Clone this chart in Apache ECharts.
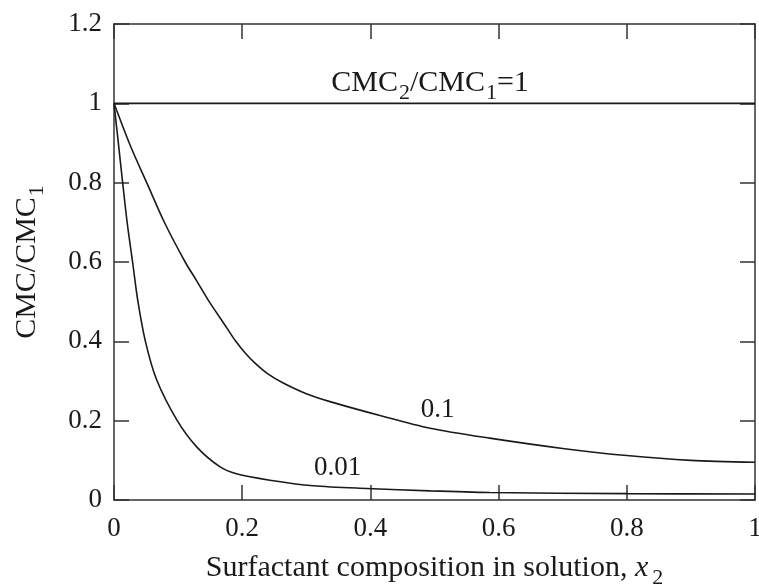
<!DOCTYPE html>
<html>
<head>
<meta charset="utf-8">
<script src="https://cdn.jsdelivr.net/npm/echarts@6/dist/echarts.min.js"></script>
<style>
html,body{margin:0;padding:0;background:#fff;}
#chart{width:759px;height:586px;}
</style>
</head>
<body>
<div id="chart"></div>
<script>
// CMC2/CMC1 = 1 (flat line)
var ratio1 = [[0, 1], [1, 1]];
// CMC2/CMC1 = 0.1
var ratio01 = [
    [0, 1.0], [0.026, 0.891], [0.051, 0.80], [0.0795, 0.697], [0.111, 0.60],
    [0.128, 0.555], [0.147, 0.504], [0.176, 0.434], [0.19, 0.40], [0.205, 0.37],
    [0.22, 0.345], [0.24, 0.318], [0.264, 0.295], [0.30, 0.268], [0.337, 0.248],
    [0.415, 0.213], [0.493, 0.181], [0.586, 0.156], [0.70, 0.130], [0.80, 0.112],
    [0.90, 0.100], [1.0, 0.095]
];
// CMC2/CMC1 = 0.01
var ratio001 = [
    [0, 1.0], [0.0074, 0.891], [0.0135, 0.80], [0.0205, 0.70], [0.029, 0.60],
    [0.037, 0.504], [0.049, 0.40], [0.0665, 0.303], [0.098, 0.202], [0.129, 0.134],
    [0.165, 0.084], [0.191, 0.066], [0.243, 0.050], [0.311, 0.036], [0.394, 0.029],
    [0.493, 0.023], [0.586, 0.019], [0.80, 0.016], [1.0, 0.015]
];
// where the curve labels sit (data coords)
var labelTop = [0.493, 1.05];
var label01 = [0.505, 0.227];
var label001 = [0.349, 0.081];

var font = 'Liberation Serif';
var ink = '#1a1a1a';

var myChart = echarts.init(document.getElementById('chart'));

// subscript style: smaller and dropped below the baseline
var sub = {fontFamily: font, fontSize: 22, color: ink, verticalAlign: 'bottom', padding: [20, 0, 0, 1]};

function textLabel(coord, text, size) {
    return {
        coord: coord,
        symbol: 'circle',
        symbolSize: 1,
        itemStyle: {color: 'rgba(0,0,0,0)'},
        label: {
            show: true,
            position: 'inside',
            formatter: text,
            color: ink,
            fontFamily: font,
            fontSize: size,
            rich: {
                n: {fontFamily: font, fontSize: size, color: ink},
                s: sub
            }
        }
    };
}

var lineStyle = {color: ink, width: 1.6};
var axisLine = {show: true, onZero: false, lineStyle: {color: '#333', width: 1.5}};
var axisTick = {inside: true, length: 15, lineStyle: {color: '#333', width: 1.5}};

var option = {
    animation: false,
    grid: {left: 114, right: 4, top: 24, bottom: 86, outerBoundsMode: 'none'},
    xAxis: [{
        type: 'value',
        min: 0, max: 1, interval: 0.2,
        name: '{n|Surfactant composition in solution, }{i|x}{s|2}',
        nameLocation: 'middle',
        nameGap: 47,
        nameTextStyle: {
            rich: {
                n: {fontFamily: font, fontSize: 30, color: ink},
                i: {fontFamily: font, fontSize: 30, fontStyle: 'italic', color: ink},
                s: {fontFamily: font, fontSize: 22, color: ink, verticalAlign: 'bottom', padding: [20, 0, 0, 4]}
            }
        },
        axisLine: axisLine,
        axisTick: axisTick,
        axisLabel: {fontFamily: font, fontSize: 27, color: ink, margin: 15},
        splitLine: {show: false}
    }, {
        type: 'value',
        position: 'top',
        min: 0, max: 1, interval: 0.2,
        axisLine: axisLine,
        axisTick: axisTick,
        axisLabel: {show: false},
        splitLine: {show: false}
    }],
    yAxis: [{
        type: 'value',
        min: 0, max: 1.2, interval: 0.2,
        name: '{n|CMC/CMC}{s|1}',
        nameLocation: 'middle',
        nameRotate: 90,
        nameGap: 66,
        nameTextStyle: {
            rich: {
                n: {fontFamily: font, fontSize: 30, color: ink},
                s: sub
            }
        },
        axisLine: axisLine,
        axisTick: axisTick,
        axisLabel: {fontFamily: font, fontSize: 27, color: ink, margin: 12},
        splitLine: {show: false}
    }, {
        type: 'value',
        position: 'right',
        min: 0, max: 1.2, interval: 0.2,
        axisLine: axisLine,
        axisTick: axisTick,
        axisLabel: {show: false},
        splitLine: {show: false}
    }],
    series: [{
        type: 'line',
        data: ratio1,
        showSymbol: false,
        lineStyle: lineStyle,
        markPoint: {data: [textLabel(labelTop, '{n|CMC}{s|2}{n|/CMC}{s|1}{n|=1}', 30)]}
    }, {
        type: 'line',
        data: ratio01,
        smooth: 0.3,
        showSymbol: false,
        lineStyle: lineStyle,
        markPoint: {data: [textLabel(label01, '0.1', 27)]}
    }, {
        type: 'line',
        data: ratio001,
        smooth: 0.3,
        showSymbol: false,
        lineStyle: lineStyle,
        markPoint: {data: [textLabel(label001, '0.01', 27)]}
    }]
};

myChart.setOption(option, true);
</script>
</body>
</html>
